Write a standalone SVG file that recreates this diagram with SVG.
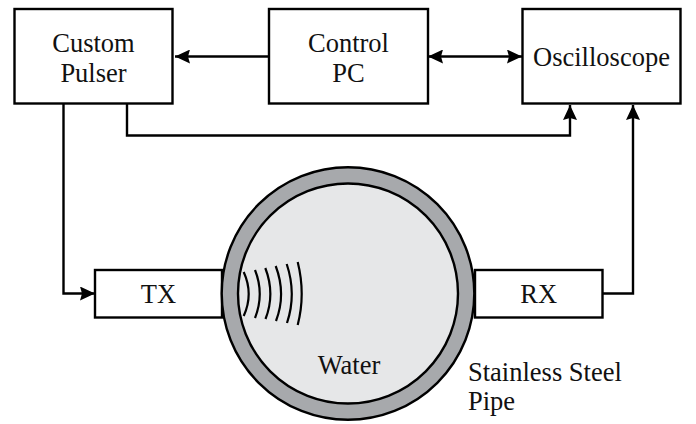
<svg xmlns="http://www.w3.org/2000/svg" width="696" height="424" viewBox="0 0 696 424">
<defs>
<marker id="a" markerUnits="userSpaceOnUse" markerWidth="16" markerHeight="14" refX="15" refY="7" orient="auto-start-reverse"><path d="M0 0L15 7L0 14L2 7Z" fill="#000"/></marker>
</defs>
<style>
.b{fill:#fff;stroke:#000;stroke-width:2.4}
.c{fill:none;stroke:#000;stroke-width:2.4}
.w{fill:none;stroke:#000;stroke-width:2.2}
text{font-family:"Liberation Serif","Times New Roman",serif;font-size:26.5px;fill:#111;text-anchor:middle}
</style>
<rect width="696" height="424" fill="#fff"/>
<g id="connectors">
<path class="c" d="M269 56.500H175" marker-end="url(#a)"/>
<path class="c" d="M428 56.500H522" marker-start="url(#a)" marker-end="url(#a)"/>
<path class="c" d="M127 104V135.500H570V105" marker-end="url(#a)"/>
<path class="c" d="M63.500 104V293.500H95" marker-end="url(#a)"/>
<path class="c" d="M603 293.500H633V105" marker-end="url(#a)"/>
</g>
<g id="custom-pulser"><rect class="b" x="14.500" y="9" width="158" height="94.500"/><text x="93.500" y="52">Custom</text><text x="93.500" y="81.500">Pulser</text></g>
<g id="control-pc"><rect class="b" x="269" y="9" width="159" height="94.500"/><text x="348.500" y="52">Control</text><text x="348.500" y="81.500">PC</text></g>
<g id="oscilloscope"><rect class="b" x="522.500" y="9" width="158" height="94.500"/><text x="601.500" y="65.500">Oscilloscope</text></g>
<g id="tx"><rect class="b" x="95" y="270" width="127" height="47.500"/><text x="158.500" y="302.500">TX</text></g>
<g id="rx"><rect class="b" x="475" y="270" width="127.500" height="47.500"/><text x="538.700" y="302.500">RX</text></g>
<g id="pipe">
<circle cx="348" cy="293.500" r="126.300" fill="#a7a9ac" stroke="#000" stroke-width="2.400"/>
<circle cx="348" cy="293.500" r="110" fill="#e6e7e8" stroke="#000" stroke-width="2.400"/>
</g>
<g id="waves">
<path class="w" d="M243.700 272Q253.700 294 243.700 316"/>
<path class="w" d="M255 270Q264.500 294 255 318"/>
<path class="w" d="M265.300 268Q275.300 294 265.500 319"/>
<path class="w" d="M275.700 266Q286.300 294 276 321"/>
<path class="w" d="M286.700 264Q296.700 294 287 323"/>
<path class="w" d="M297.700 262Q305.700 294 297.700 325"/>
</g>
<g id="labels">
<text x="349" y="374">Water</text>
<text x="468" y="380.500" style="text-anchor:start">Stainless Steel</text>
<text x="468" y="410" style="text-anchor:start">Pipe</text>
</g>
</svg>
